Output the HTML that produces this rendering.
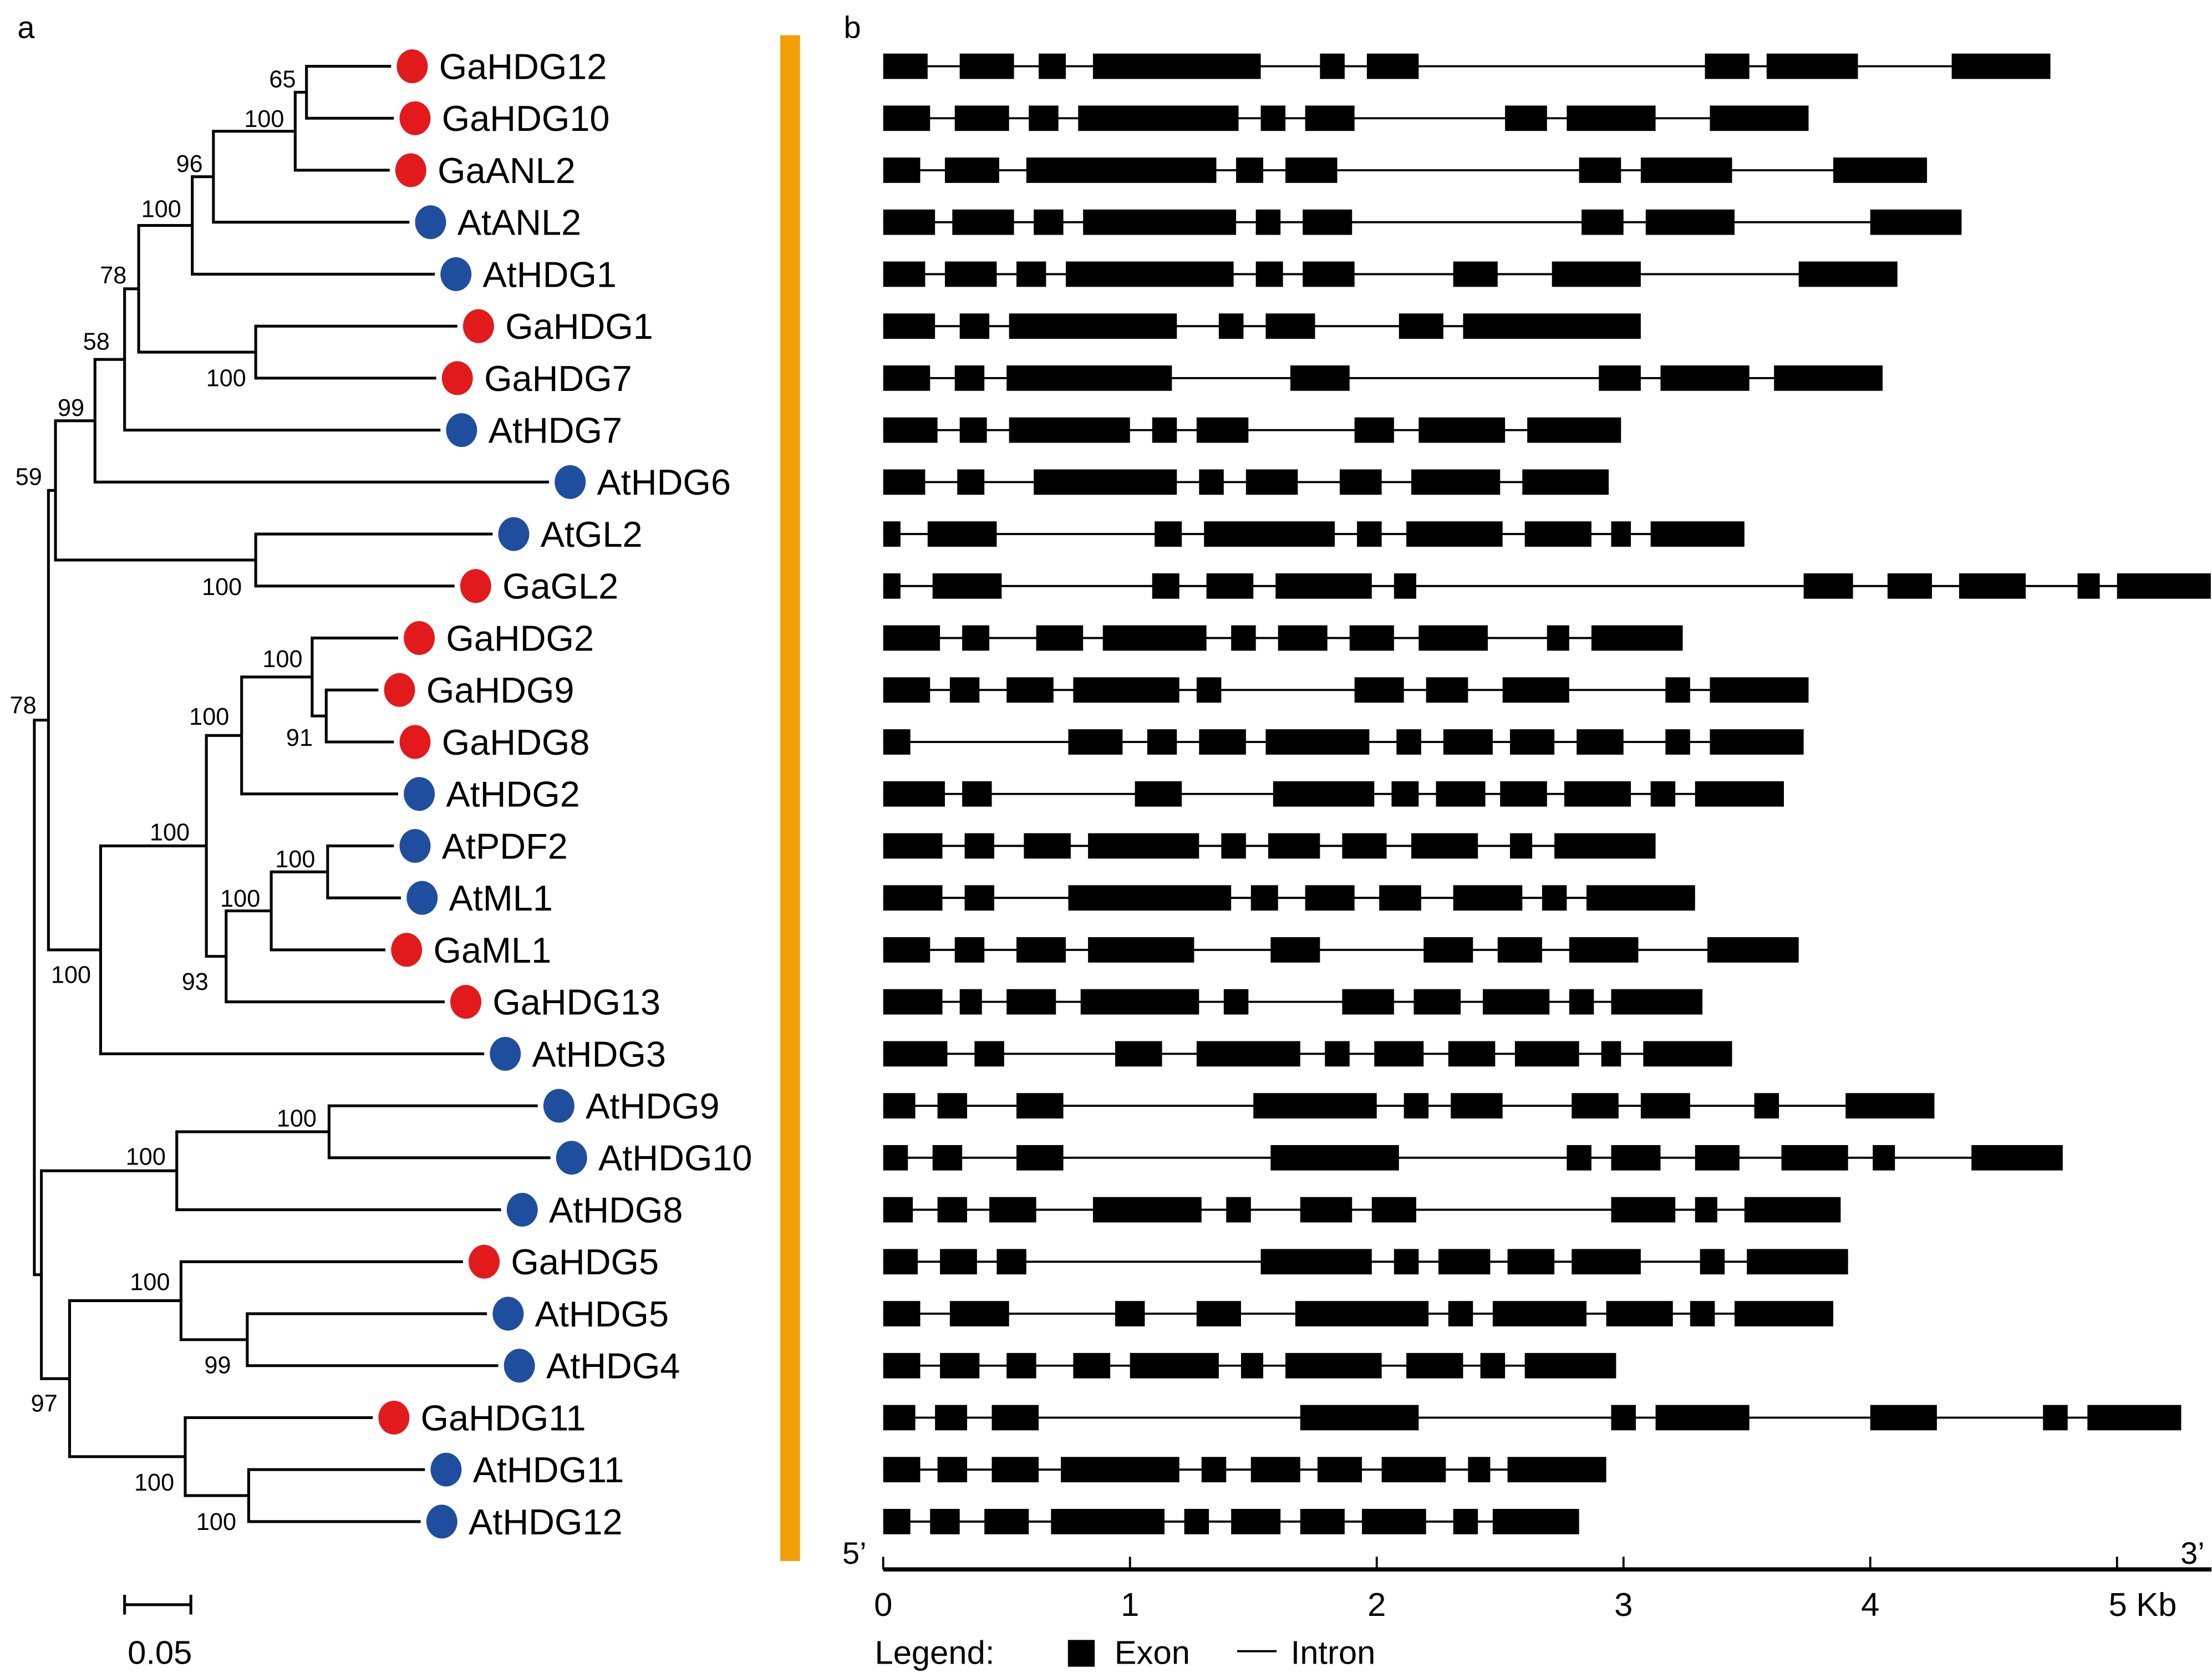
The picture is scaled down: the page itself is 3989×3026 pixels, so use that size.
<!DOCTYPE html>
<html><head><meta charset="utf-8"><style>
html,body{margin:0;padding:0;background:#fff;}
svg{display:block;font-family:"Liberation Sans",Arial,sans-serif;}
</style></head><body>
<svg id="fig" width="3989" height="3026" viewBox="0 0 1568 1190" xmlns="http://www.w3.org/2000/svg">
<rect width="1568" height="1190" fill="#fff"/>
<text x="12" y="27" font-size="22">a</text>
<text x="598" y="27" font-size="22">b</text>
<g id="tree"></g>
<rect x="553" y="25" width="14" height="1082" fill="#f29f05"/>
<g id="genes"></g>
<g id="axis"></g>
<g>
<line x1="88" y1="1138" x2="135" y2="1138" stroke="#000" stroke-width="2"/>
<line x1="88" y1="1131" x2="88" y2="1145" stroke="#000" stroke-width="2"/>
<line x1="135" y1="1131" x2="135" y2="1145" stroke="#000" stroke-width="2"/>
<text x="113" y="1180" font-size="23.5" text-anchor="middle">0.05</text>
</g>
<g>
<text x="620" y="1180" font-size="23.5">Legend:</text>
<rect x="757" y="1163" width="19" height="19" fill="#000"/>
<text x="790" y="1180" font-size="23.5">Exon</text>
<line x1="877" y1="1171" x2="905" y2="1171" stroke="#000" stroke-width="1.5"/>
<text x="915" y="1180" font-size="23.5">Intron</text>
</g>
</svg>
<script>
const NS="http://www.w3.org/2000/svg";
const geneNames=["GaHDG12","GaHDG10","GaANL2","AtANL2","AtHDG1","GaHDG1","GaHDG7","AtHDG7","AtHDG6","AtGL2","GaGL2","GaHDG2","GaHDG9","GaHDG8","AtHDG2","AtPDF2","AtML1","GaML1","GaHDG13","AtHDG3","AtHDG9","AtHDG10","AtHDG8","GaHDG5","AtHDG5","AtHDG4","GaHDG11","AtHDG11","AtHDG12"];
const species=["Ga","Ga","Ga","At","At","Ga","Ga","At","At","At","Ga","Ga","Ga","Ga","At","At","At","Ga","Ga","At","At","At","At","Ga","At","At","Ga","At","At"];
const exons=[
[[0,.18],[.31,.53],[.63,.74],[.85,1.53],[1.77,1.87],[1.96,2.17],[3.33,3.51],[3.58,3.95],[4.33,4.73]],
[[0,.19],[.29,.51],[.59,.71],[.79,1.44],[1.53,1.63],[1.71,1.91],[2.52,2.69],[2.77,3.13],[3.35,3.75]],
[[0,.15],[.25,.47],[.58,1.35],[1.43,1.54],[1.63,1.84],[2.82,2.99],[3.07,3.44],[3.85,4.23]],
[[0,.21],[.28,.53],[.61,.73],[.81,1.43],[1.51,1.61],[1.7,1.9],[2.83,3.0],[3.09,3.45],[4.0,4.37]],
[[0,.17],[.25,.46],[.54,.66],[.74,1.42],[1.51,1.62],[1.7,1.91],[2.31,2.49],[2.71,3.07],[3.71,4.11]],
[[0,.21],[.31,.43],[.51,1.19],[1.36,1.46],[1.55,1.75],[2.09,2.27],[2.35,3.07]],
[[0,.19],[.29,.41],[.5,1.17],[1.65,1.89],[2.9,3.07],[3.15,3.51],[3.61,4.05]],
[[0,.22],[.31,.42],[.51,1.0],[1.09,1.19],[1.27,1.48],[1.91,2.07],[2.17,2.52],[2.61,2.99]],
[[0,.17],[.3,.41],[.61,1.19],[1.28,1.38],[1.47,1.68],[1.85,2.02],[2.14,2.5],[2.59,2.94]],
[[0,.07],[.18,.46],[1.1,1.21],[1.3,1.83],[1.92,2.02],[2.12,2.51],[2.6,2.87],[2.95,3.03],[3.11,3.49]],
[[0,.07],[.2,.48],[1.09,1.2],[1.31,1.5],[1.59,1.98],[2.07,2.16],[3.73,3.93],[4.07,4.25],[4.36,4.63],[4.84,4.93],[5.0,5.38]],
[[0,.23],[.32,.43],[.62,.81],[.89,1.31],[1.41,1.51],[1.6,1.8],[1.89,2.07],[2.17,2.45],[2.69,2.78],[2.87,3.24]],
[[0,.19],[.27,.39],[.5,.69],[.77,1.2],[1.27,1.37],[1.91,2.11],[2.2,2.37],[2.51,2.78],[3.17,3.27],[3.35,3.75]],
[[0,.11],[.75,.97],[1.07,1.19],[1.28,1.47],[1.55,1.97],[2.08,2.18],[2.27,2.47],[2.54,2.72],[2.81,3.0],[3.17,3.27],[3.35,3.73]],
[[0,.25],[.32,.44],[1.02,1.21],[1.58,1.99],[2.06,2.17],[2.24,2.44],[2.5,2.69],[2.76,3.03],[3.11,3.21],[3.29,3.65]],
[[0,.24],[.33,.45],[.57,.76],[.83,1.28],[1.37,1.47],[1.56,1.77],[1.86,2.04],[2.14,2.41],[2.54,2.63],[2.72,3.13]],
[[0,.24],[.33,.45],[.75,1.41],[1.49,1.6],[1.71,1.91],[2.01,2.18],[2.31,2.59],[2.67,2.77],[2.85,3.29]],
[[0,.19],[.29,.41],[.54,.74],[.83,1.26],[1.57,1.77],[2.19,2.39],[2.49,2.67],[2.78,3.06],[3.34,3.71]],
[[0,.24],[.31,.4],[.5,.7],[.8,1.28],[1.38,1.48],[1.86,2.07],[2.15,2.34],[2.43,2.7],[2.78,2.88],[2.95,3.32]],
[[0,.26],[.37,.49],[.94,1.13],[1.27,1.69],[1.79,1.89],[1.99,2.19],[2.29,2.48],[2.56,2.82],[2.91,2.99],[3.08,3.44]],
[[0,.13],[.22,.34],[.54,.73],[1.5,2.0],[2.11,2.21],[2.3,2.51],[2.79,2.98],[3.07,3.27],[3.53,3.63],[3.9,4.26]],
[[0,.1],[.2,.32],[.54,.73],[1.57,2.09],[2.77,2.87],[2.95,3.15],[3.29,3.47],[3.64,3.91],[4.01,4.1],[4.41,4.78]],
[[0,.12],[.22,.34],[.43,.62],[.85,1.29],[1.39,1.49],[1.69,1.9],[1.98,2.16],[2.95,3.21],[3.29,3.38],[3.49,3.88]],
[[0,.14],[.23,.38],[.46,.58],[1.53,1.98],[2.07,2.17],[2.25,2.46],[2.53,2.72],[2.79,3.07],[3.31,3.41],[3.5,3.91]],
[[0,.15],[.27,.51],[.94,1.06],[1.27,1.45],[1.67,2.21],[2.29,2.39],[2.47,2.85],[2.93,3.2],[3.27,3.37],[3.45,3.85]],
[[0,.15],[.23,.39],[.5,.62],[.77,.92],[1.0,1.36],[1.45,1.54],[1.63,2.02],[2.12,2.35],[2.42,2.52],[2.6,2.97]],
[[0,.13],[.21,.34],[.44,.63],[1.69,2.17],[2.95,3.05],[3.13,3.51],[4.0,4.27],[4.7,4.8],[4.88,5.26]],
[[0,.15],[.22,.34],[.44,.63],[.72,1.2],[1.29,1.39],[1.49,1.69],[1.76,1.94],[2.02,2.28],[2.37,2.46],[2.53,2.93]],
[[0,.11],[.19,.31],[.41,.59],[.68,1.14],[1.22,1.32],[1.41,1.61],[1.69,1.87],[1.94,2.2],[2.31,2.41],[2.47,2.82]]
];
const tickValues=[0,1,2,3,4,5];
const tickLabels=["0","1","2","3","4","5 Kb"];

const x=kb=>626+kb*175;
const rowY=i=>47+i*36.86;

function mk(tag,attrs,parent){const e=document.createElementNS(NS,tag);for(const k in attrs)e.setAttribute(k,attrs[k]);parent.appendChild(e);return e;}

const G=document.getElementById('genes');
exons.forEach((ex,i)=>{
  const g=mk('g',{},G);
  
  
  const end=ex[ex.length-1][1];
  const ln=mk('line',{x1:x(0),x2:Math.min(x(end),1568),y1:rowY(i),y2:rowY(i),stroke:'#000','stroke-width':1.5},g);
  
  
  ex.forEach(e=>{
    const r=mk('rect',{x:x(e[0]),y:rowY(i)-9,width:x(e[1])-x(e[0]),height:18,fill:'#000'},g);
    
    
  });
});

const A=document.getElementById('axis');
mk('line',{x1:x(0),x2:1568,y1:1113,y2:1113,stroke:'#000','stroke-width':3},A);
tickValues.forEach((v,i)=>{
  const t=mk('line',{x1:x(v),x2:x(v),y1:1104,y2:1113,stroke:'#000','stroke-width':1.5},A);
  
  
  const tx=mk('text',{x:v===5?x(v)-6:x(v),y:1146,'font-size':23.5,'text-anchor':v===5?'start':'middle'},A);
  tx.textContent=tickLabels[i];
  
  
});
const t5=mk('text',{x:597,y:1109,'font-size':22},A);t5.textContent="5’";


const t3=mk('text',{x:1546,y:1109,'font-size':22},A);t3.textContent="3’";



const T=document.getElementById('tree');
const leafCircleX=[292,294,291,305,323,339,324,327,404,364,337,297,283,294,297,294,299,288,330,358,396,405,370,343,360,368,279,316,313];
const leafEnd=[277,279,276,290,308,324,309,312,389,349,322,282,268,279,282,279,284,273,315,343,381,390,355,328,345,353,264,301,298];
const nodes={
A:[217,[0,1]],B:[209,['A',2]],C:[151,['B',3]],D:[136,['C',4]],E:[181,[5,6]],F:[98,['D','E']],
G:[88,['F',7]],H:[67,['G',8]],I:[181,[9,10]],J:[39,['H','I']],K:[231,[12,13]],L:[221,[11,'K']],
M:[171,['L',14]],N:[232,[15,16]],O:[192,['N',17]],P:[160,['O',18]],Q:[146,['M','P']],R:[71,['Q',19]],
S:[34,['J','R']],T:[233,[20,21]],U:[125,['T',22]],V:[175,[24,25]],W:[128,[23,'V']],X:[176,[27,28]],
Y:[131,[26,'X']],Z:[49,['W','Y']],AA:[29,['U','Z']],ROOT:[24,['S','AA']]};
const cache={};
function nodeY(c){
  if(typeof c==='number')return rowY(c);
  if(cache[c]!==undefined)return cache[c];
  const ch=nodes[c][1];const ys=ch.map(nodeY);cache[c]=(ys[0]+ys[ys.length-1])/2;return cache[c];
}
function childX(c){return typeof c==='number'?leafEnd[c]:nodes[c][0];}
for(const k in nodes){
  const [nx,ch]=nodes[k];
  const ys=ch.map(nodeY);
  const v=mk('line',{x1:nx,x2:nx,y1:ys[0]-1,y2:ys[ys.length-1]+1,stroke:'#000','stroke-width':2},T);
  
  
  ch.forEach((c,j)=>{
    const h=mk('line',{x1:nx,x2:childX(c),y1:ys[j],y2:ys[j],stroke:'#000','stroke-width':2},T);
    
    
  });
}
geneNames.forEach((n,i)=>{
  const c=mk('ellipse',{cx:leafCircleX[i],cy:rowY(i),rx:11,ry:12,fill:species[i]==='Ga'?'#e31a1c':'#1f4e9e'},T);
  
  
  const t=mk('text',{x:leafCircleX[i]+19,y:rowY(i)+9,'font-size':25.5},T);
  t.textContent=n;
  
  
});
const bootVals=["65","100","96","100","78","100","58","99","59","100","100","100","91","100","100","100","93","100","78","100","100","100","99","97","100","100"];
const bootPos=[[200,56],[187,84],[134,116],[114,148],[80,195],[160,268],[68,242],[50,289],[20,338],[157,416],[200,467],[148,508],[212,523],[120,590],[209,609],[170,637],[138,696],[50,691],[16,500],[210,793],[103,820],[106,909],[154,968],[31,995],[109,1051],[153,1079]];
bootVals.forEach((b,i)=>{
  const t=mk('text',{x:bootPos[i][0],y:bootPos[i][1]+6,'font-size':17,'text-anchor':'middle'},T);
  t.textContent=b;
  
  
});
</script>
</body></html>
